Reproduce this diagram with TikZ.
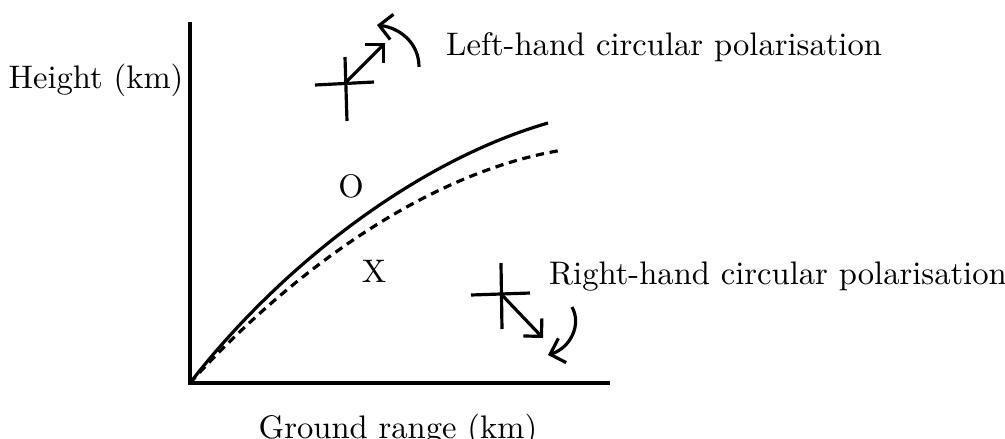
\documentclass[tikz,border=0pt]{standalone}
\usepackage{tikz}
\usetikzlibrary{arrows.meta,calc,positioning}
\definecolor{rpInk}{HTML}{000000}

\begin{document}
\begin{tikzpicture}[x=0.01104cm,y=0.01104cm,line width=1pt,rpInk,
  font=\fontsize{10.25}{12}\selectfont,
  tip/.style={-{Straight Barb[length=4pt,width=8pt]}}]
\useasboundingbox (-190,-55) rectangle (815,383);
% axes
\coordinate (orig) at (0,0);
\coordinate (ytop) at (0,361);
\coordinate (xend) at (420,0);
\draw (ytop) -- (orig) -- (xend);
\node (ylab) at (-94,303) {Height (km)};
\node (xlab) at (208,-47) {Ground range (km)};
% O and X rays
\draw (orig) .. controls (85,110) and (220,220) .. (358,260);
\draw[dash pattern=on 2.6pt off 1.8pt] (orig) .. controls (90,100) and (230,210) .. (373,233);
\node (omode) at (161,197) {O};
\node (xmode) at (184,112) {X};
% left-hand polarisation
\coordinate (lhc) at (156,301);
\draw (125,298) -- (184,301);
\draw (155,326) -- (157,262);
\draw[tip] (lhc) -- (195,340);
\draw[tip] (229,316) .. controls (229,340) and (210,355) .. (187,358);
\node[anchor=west] (lhlab) at (244,336) {Left-hand circular polarisation};
% right-hand polarisation
\coordinate (rhc) at (311,89);
\draw (281,88) -- (340,90);
\draw (311,120) -- (312,54);
\draw[tip] (rhc) -- (353,45);
\draw[tip] (382,76) .. controls (392,58) and (380,35) .. (358,28);
\node[anchor=west] (rhlab) at (347,106) {Right-hand circular polarisation};
\end{tikzpicture}
\end{document}
